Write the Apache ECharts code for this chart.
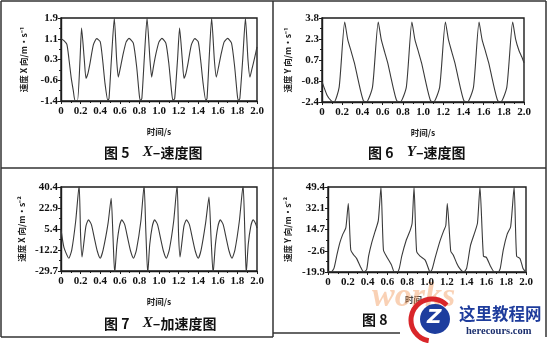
<!DOCTYPE html>
<html><head><meta charset="utf-8">
<script src="https://cdn.jsdelivr.net/npm/echarts@6/dist/echarts.min.js"></script>
<style>html,body{margin:0;padding:0;background:#fff}#c{width:548px;height:343px}</style>
</head><body><div id="c"></div>
<script>
// ---- data (time in s, value) ----
const timeTicks = ['0','0.2','0.4','0.6','0.8','1.0','1.2','1.4','1.6','1.8','2.0'];

const velXTicks = ['-1.4','-0.6','0.3','1.1','1.9'];
const velX = [[0,1.08],[0.03,1.0],[0.06,0.85],[0.08,0.3],[0.105,-0.5],[0.126,-1.0],[0.143,-1.38],[0.168,-1.38],[0.194,0.23],[0.21,1.5],[0.238,0.23],[0.255,-0.5],[0.275,-0.3],[0.296,0.1],[0.33,0.83],[0.364,1.08],[0.40,0.96],[0.425,0.23],[0.449,-0.7],[0.478,-1.38],[0.49,-1.3],[0.515,0.3],[0.544,1.9],[0.568,0.23],[0.585,-0.45],[0.61,0.0],[0.636,0.5],[0.665,0.95],[0.694,1.09],[0.738,0.9],[0.772,-0.04],[0.80,-1.2],[0.812,-1.38],[0.825,-1.3],[0.85,0.3],[0.878,1.9],[0.908,0.23],[0.925,-0.45],[0.945,0.0],[0.97,0.5],[1.0,0.95],[1.03,1.09],[1.07,0.9],[1.10,0.1],[1.125,-0.9],[1.142,-1.38],[1.16,-1.3],[1.19,0.3],[1.21,1.5],[1.238,0.23],[1.255,-0.5],[1.275,-0.3],[1.296,0.1],[1.33,0.83],[1.365,1.08],[1.40,0.96],[1.425,0.23],[1.45,-0.7],[1.478,-1.38],[1.49,-1.3],[1.512,0.3],[1.537,1.9],[1.565,0.23],[1.585,-0.45],[1.61,0.0],[1.636,0.5],[1.665,0.95],[1.70,1.09],[1.74,0.9],[1.772,-0.04],[1.80,-1.2],[1.812,-1.38],[1.825,-1.3],[1.855,0.3],[1.882,1.9],[1.908,0.23],[1.928,-0.45],[1.95,-0.1],[1.975,0.3],[2.0,0.75]];

const velYTicks = ['-2.4','-0.8','0.7','2.3','3.8'];
const velY = [[0,-0.9],[0.05,-1.9],[0.09,-2.3],[0.12,-2.4],[0.17,-1.3],[0.225,3.5],[0.255,2.2],[0.29,1.3],[0.32,0.5],[0.35,-0.5],[0.38,-1.5],[0.41,-2.3],[0.44,-2.4],[0.5,-1.3],[0.557,3.5],[0.587,2.2],[0.62,1.3],[0.65,0.5],[0.68,-0.5],[0.71,-1.5],[0.74,-2.3],[0.775,-2.4],[0.835,-1.3],[0.89,3.5],[0.92,2.2],[0.955,1.3],[0.985,0.5],[1.015,-0.5],[1.045,-1.5],[1.075,-2.3],[1.105,-2.4],[1.165,-1.3],[1.222,3.5],[1.252,2.2],[1.285,1.3],[1.315,0.5],[1.345,-0.5],[1.375,-1.5],[1.405,-2.3],[1.44,-2.4],[1.5,-1.3],[1.555,3.5],[1.585,2.2],[1.62,1.3],[1.65,0.5],[1.68,-0.5],[1.71,-1.5],[1.74,-2.3],[1.77,-2.4],[1.83,-1.3],[1.888,3.5],[1.918,2.2],[1.95,1.4],[1.98,0.9],[2.0,0.5]];

const accXTicks = ['-29.7','-12.2','5.4','22.9','40.4'];
const accX = [[0,5],[0.03,-10],[0.08,-19],[0.11,-12],[0.15,12],[0.185,42],[0.2,0],[0.215,-18],[0.235,-5],[0.255,8],[0.28,13],[0.31,9],[0.34,-2],[0.37,-13],[0.40,-19],[0.43,-12],[0.48,10],[0.512,31],[0.53,0],[0.548,-32],[0.57,-8],[0.595,7],[0.62,13],[0.65,9],[0.68,-2],[0.71,-13],[0.74,-19],[0.77,-12],[0.815,12],[0.848,42],[0.865,5],[0.885,-32],[0.905,-8],[0.93,7],[0.955,13],[0.985,9],[1.015,-2],[1.045,-13],[1.075,-19],[1.105,-12],[1.15,12],[1.185,42],[1.2,0],[1.215,-18],[1.235,-5],[1.255,8],[1.28,13],[1.31,9],[1.34,-2],[1.37,-13],[1.40,-19],[1.43,-12],[1.475,10],[1.51,32],[1.53,0],[1.552,-32],[1.575,-8],[1.60,7],[1.625,13],[1.655,9],[1.685,-2],[1.715,-13],[1.745,-19],[1.775,-12],[1.82,12],[1.858,42],[1.875,5],[1.89,-32],[1.91,-8],[1.935,7],[1.96,13],[1.985,10],[2.0,6]];

const accYTicks = ['-19.9','-2.6','14.7','32.1','49.4'];
const accY = [[0,-19.5],[0.03,-19.9],[0.06,-17],[0.09,-6],[0.12,4],[0.15,11],[0.18,16],[0.205,36],[0.23,-2],[0.26,-6],[0.29,-9],[0.33,-16],[0.36,-19.9],[0.39,-18],[0.41,-7],[0.44,3.5],[0.475,13],[0.508,22],[0.535,49.4],[0.56,-2],[0.59,-7],[0.64,-14],[0.67,-19.9],[0.70,-19.9],[0.72,-17],[0.745,-7],[0.79,6],[0.83,14],[0.85,20],[0.869,49.4],[0.895,-3],[0.93,-7],[0.98,-10],[1.01,-16],[1.03,-19.9],[1.05,-18],[1.08,-9],[1.13,5],[1.17,14],[1.19,18],[1.205,36],[1.24,-3],[1.265,-6],[1.30,-12.7],[1.33,-17],[1.37,-19.9],[1.40,-17],[1.44,2],[1.485,13],[1.51,20],[1.535,49.4],[1.57,-7],[1.60,-8],[1.64,-15],[1.68,-19.9],[1.72,-19.9],[1.74,-17],[1.77,-2],[1.81,11],[1.845,17],[1.88,49.4],[1.905,-7],[1.94,-9],[1.97,-17],[2.0,-19.9]];

const panels = [
  {ticks: velXTicks, data: velX, yName: '速度 X 向/m·s⁻¹', caption: ['5','X','速度图'], grid:{left:61, top:18, width:196, height:83}, nameGap:33},
  {ticks: velYTicks, data: velY, yName: '速度 Y 向/m·s⁻¹', caption: ['6','Y','速度图'], grid:{left:322, top:18, width:202, height:84}, nameGap:30},
  {ticks: accXTicks, data: accX, yName: '速度 X 向/m·s⁻²', caption: ['7','X','加速度图'], grid:{left:61, top:187, width:196, height:84}, nameGap:35},
  {ticks: accYTicks, data: accY, yName: '速度 Y 向/m·s⁻²', caption: null, grid:{left:328, top:187, width:198, height:85}, nameGap:36}
];

const ink = '#1c1c1c';
const serif = '"Liberation Serif", "DejaVu Serif", serif';
const cjk = '"Noto Sans CJK SC", sans-serif';

const option = {backgroundColor:'#fff', animation:false, grid:[], xAxis:[], yAxis:[], series:[], graphic:[]};

panels.forEach((p, i) => {
  const mn = parseFloat(p.ticks[0]), mx = parseFloat(p.ticks[p.ticks.length-1]);
  const step = (mx - mn) / (p.ticks.length - 1);
  option.grid.push(Object.assign({show:true, borderColor:ink, borderWidth:1.4, backgroundColor:'transparent'}, p.grid));
  option.xAxis.push({
    type:'value', gridIndex:i, min:0, max:2, interval:0.2,
    axisLine:{onZero:false, lineStyle:{color:ink, width:1.4}},
    axisTick:{show:true, length:3, lineStyle:{color:ink, width:1}},
    minorTick:{show:true, splitNumber:2, length:2, lineStyle:{color:ink}},
    splitLine:{show:false},
    axisLabel:{color:'#111', fontFamily:serif, fontWeight:'bold', fontSize:11, margin:5,
      formatter: v => timeTicks[Math.round(v/0.2)]},
    name: i===3 ? '' : '时间/s', nameLocation:'middle', nameGap:27,
    nameTextStyle:{color:'#222', fontFamily:cjk, fontSize:8.5, fontWeight:'bold'}
  });
  option.yAxis.push({
    type:'value', gridIndex:i, min:mn, max:mx, interval:step,
    axisLine:{onZero:false, lineStyle:{color:ink, width:1.4}},
    axisTick:{show:true, length:3, lineStyle:{color:ink, width:1}},
    minorTick:{show:true, splitNumber:2, length:2, lineStyle:{color:ink}},
    splitLine:{show:false},
    axisLabel:{color:'#111', fontFamily:serif, fontWeight:'bold', fontSize:11, margin:3,
      formatter: v => p.ticks[Math.round((v - mn)/step)]},
    name: p.yName, nameLocation:'middle', nameRotate:90, nameGap:p.nameGap,
    nameTextStyle:{color:'#222', fontFamily:cjk, fontSize:8.5, fontWeight:'bold'}
  });
  option.series.push({
    type:'line', xAxisIndex:i, yAxisIndex:i, data:p.data, showSymbol:false, smooth:0.2,
    clip:true, lineStyle:{color:'#3a3a3a', width:1.1}
  });
  if (p.caption) {
    const cx = p.grid.left + p.grid.width/2;
    const cy = i < 2 ? 154 : 325;
    option.graphic.push({type:'text', left: cx - 55, top: cy - 9,
      style:{text:'{a|图 ' + p.caption[0] + '}    {x|' + p.caption[1] + '}{a|–' + p.caption[2] + '}',
        rich:{a:{fontFamily:cjk, fontWeight:'bold', fontSize:14, fill:'#111'},
              x:{fontFamily:serif, fontWeight:'bold', fontStyle:'italic', fontSize:15, fill:'#111'}}}});
  }
});

// panel 4 partial labels (rest hidden under watermark)
option.graphic.push({type:'text', left:362, top:313, style:{text:'图 8', fontFamily:cjk, fontWeight:'bold', fontSize:14, fill:'#111'}});
option.graphic.push({type:'text', left:405, top:296, style:{text:'时间', fontFamily:cjk, fontWeight:'bold', fontSize:8.5, fill:'#444'}});

// frame lines
const lineStyle = {stroke:'#333', lineWidth:1.5};
[[1,1,546,1],[1,1,1,337],[546,1,546,337],[1,168,546,168],[273,1,273,337],[1,337,273,337],[273,333,400,333]].forEach(s => {
  option.graphic.push({type:'line', shape:{x1:s[0], y1:s[1], x2:s[2], y2:s[3]}, style:lineStyle, silent:true});
});

// watermark
option.graphic.push({type:'text', left:372, top:280, style:{text:'works', fontFamily:serif, fontStyle:'italic', fontWeight:'bold', fontSize:34, fill:'rgba(240,140,70,0.4)'}});
option.graphic.push({type:'arc', shape:{cx:432, cy:320, r:21, startAngle:Math.PI*0.55, endAngle:Math.PI*1.75}, style:{stroke:'#d9262a', lineWidth:5, fill:null}});
option.graphic.push({type:'circle', shape:{cx:435, cy:319, r:15}, style:{fill:'#1d3d9e'}});
option.graphic.push({type:'text', left:427, top:308, style:{text:'Z', fontFamily:'"DejaVu Sans", sans-serif', fontWeight:'bold', fontStyle:'italic', fontSize:20, fill:'#fff'}});
option.graphic.push({type:'text', left:459, top:305, style:{text:'这里教程网', fontFamily:cjk, fontWeight:'bold', fontSize:16.5, fill:'#1e3c9c'}});
option.graphic.push({type:'text', left:466, top:326, style:{text:'herecours.com', fontFamily:serif, fontWeight:'bold', fontSize:10.5, fill:'#1b2f6e'}});

const chart = echarts.init(document.getElementById('c'), null, {renderer:'canvas'});
chart.setOption(option);
</script></body></html>
